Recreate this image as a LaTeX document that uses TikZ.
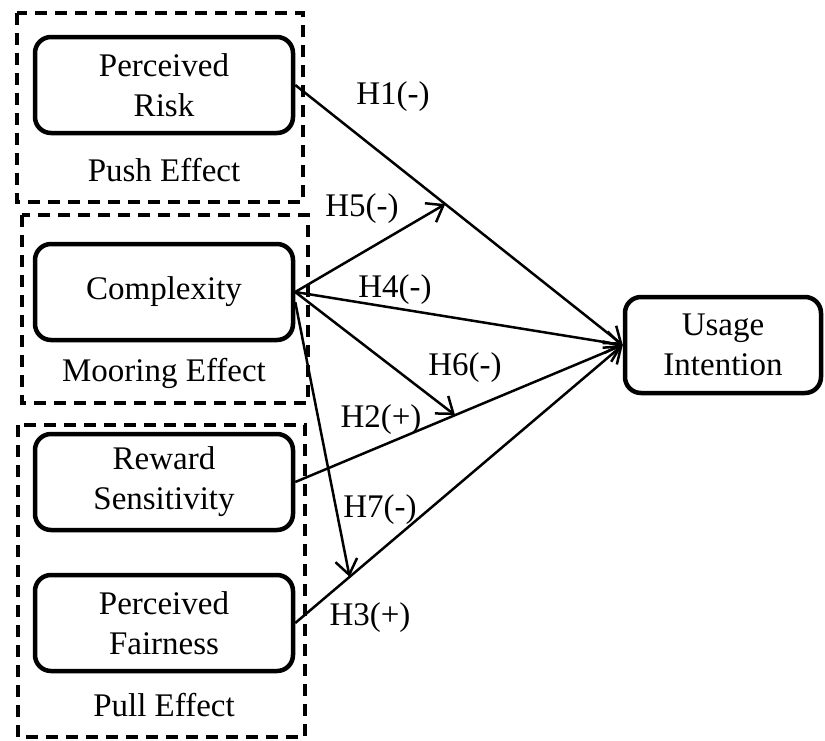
\documentclass[tikz,border=0pt]{standalone}
\usepackage{fontspec}
\setmainfont{Liberation Serif}
\usetikzlibrary{arrows.meta,calc}
\begin{document}
\begin{tikzpicture}[x=1pt,y=-1pt,
  every node/.style={font=\fontsize{33}{40}\selectfont},
  construct/.style={draw, line width=4.5pt, rounded corners=16pt, align=center, minimum width=258pt, minimum height=96pt, inner sep=0pt},
  group/.style={draw, line width=3.5pt, dash pattern=on 12pt off 8pt},
  link/.style={line width=2.5pt, -{Straight Barb[length=15pt,width=22pt,line width=2.5pt]}},
  hyp/.style={inner sep=0pt}
]
\useasboundingbox (0,0) rectangle (825,740);
% groups
\draw[group] (17,13) rectangle (303,202);
\draw[group] (22,215) rectangle (308,403);
\draw[group] (18,425) rectangle (305,737);
% constructs
\node[construct] (pr) at (164,85) {Perceived\\Risk};
\node[construct] (cx) at (164,292) {Complexity};
\node[construct] (rs) at (164,482) {Reward\\Sensitivity};
\node[construct] (pf) at (164,623) {Perceived\\Fairness};
\node[construct, minimum width=196pt] (ui) at (723,345) {Usage\\Intention};
% group labels
\node (push) at (164,170) {Push Effect};
\node (moor) at (164,373) {Mooring Effect};
\node (pull) at (164,705) {Pull Effect};
% moderation points
\coordinate (m5) at ($(pr.east)!0.458!(ui.west)$);
\coordinate (m6) at ($(rs.east)!0.488!(ui.west)$);
\coordinate (m7) at ($(pf.east)!0.166!(ui.west)$);
\coordinate (cx7) at ($(cx.east)+(0,10)$);
% paths
\draw[link] (pr.east) -- (ui.west);
\draw[link] (cx.east) -- (m5);
\draw[link] (cx.east) -- (ui.west);
\draw[link] (cx.east) -- (m6);
\draw[link] (rs.east) -- (ui.west);
\draw[link] (cx7) -- (m7);
\draw[link] (pf.east) -- (ui.west);
% hypothesis labels
\node[hyp] (h1) at (393,97) {H1(-)};
\node[hyp] (h5) at (362,209) {H5(-)};
\node[hyp] (h4) at (395,290) {H4(-)};
\node[hyp] (h6) at (465,368) {H6(-)};
\node[hyp] (h2) at (381,420) {H2(+)};
\node[hyp] (h7) at (380,510) {H7(-)};
\node[hyp] (h3) at (370,618) {H3(+)};
\end{tikzpicture}
\end{document}
